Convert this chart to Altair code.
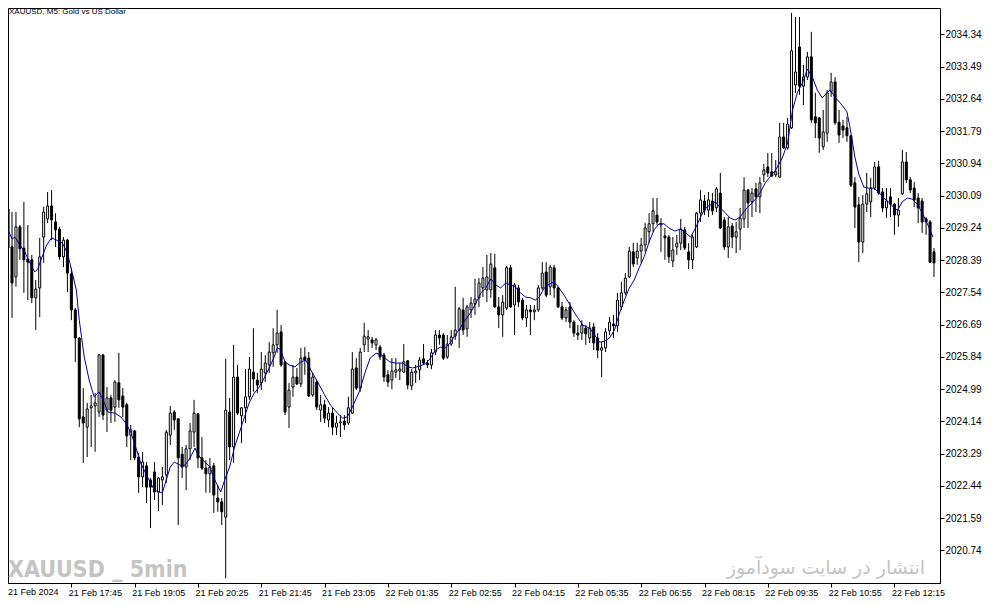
import altair as alt
import pandas as pd

# ---- candle data (XAUUSD, M5), one value per bar ----
opens = [2029.74, 2028.74, 2027.95, 2029.27, 2028.71, 2028.42, 2028.40, 2027.40, 2027.66, 2029.00,
         2029.48, 2029.82, 2029.40, 2029.21, 2028.48, 2028.92, 2028.03, 2027.08, 2026.34, 2024.26,
         2023.99, 2024.50, 2024.55, 2024.39, 2025.89, 2024.44, 2024.76, 2024.52, 2025.16, 2024.81,
         2024.58, 2023.78, 2023.89, 2023.20, 2022.68, 2022.97, 2022.60, 2022.81, 2022.28, 2022.60,
         2022.73, 2023.78, 2024.39, 2024.21, 2023.28, 2022.94, 2023.42, 2023.86, 2024.34, 2023.18,
         2022.91, 2022.76, 2022.97, 2022.12, 2022.02, 2021.62, 2024.39, 2023.47, 2025.31, 2024.29,
         2024.50, 2024.79, 2025.44, 2025.23, 2025.16, 2025.42, 2025.63, 2025.95, 2026.16, 2026.50,
         2025.71, 2024.52, 2025.05, 2025.31, 2025.13, 2025.84, 2025.81, 2024.84, 2025.18, 2024.44,
         2024.58, 2024.18, 2024.36, 2023.99, 2024.10, 2024.15, 2024.10, 2024.36, 2025.55, 2025.02,
         2026.16, 2026.31, 2026.29, 2026.16, 2026.10, 2025.89, 2025.37, 2025.23, 2025.44, 2025.47,
         2025.44, 2025.74, 2025.08, 2025.42, 2025.50, 2025.79, 2025.68, 2025.63, 2025.97, 2026.42,
         2026.42, 2025.84, 2026.18, 2026.39, 2026.55, 2027.08, 2026.58, 2027.08, 2027.24, 2027.40,
         2027.66, 2027.61, 2027.61, 2028.19, 2027.16, 2026.95, 2027.13, 2028.19, 2027.21, 2027.66,
         2027.34, 2026.87, 2027.08, 2027.03, 2027.08, 2027.66, 2028.08, 2027.69, 2028.19, 2027.66,
         2027.16, 2026.87, 2027.16, 2026.76, 2026.47, 2026.47, 2026.60, 2026.34, 2026.63, 2026.34,
         2026.02, 2026.08, 2026.53, 2026.71, 2026.66, 2027.16, 2027.53, 2027.95, 2028.61, 2028.45,
         2028.63, 2028.79, 2029.14, 2029.35, 2029.58, 2029.32, 2029.03, 2029.00, 2028.37, 2028.74,
         2028.84, 2029.19, 2028.61, 2028.40, 2028.74, 2029.63, 2029.95, 2029.71, 2029.95, 2029.77,
         2030.16, 2029.45, 2028.74, 2029.29, 2029.00, 2029.21, 2029.48, 2030.24, 2029.93, 2030.27,
         2030.06, 2030.64, 2030.85, 2030.72, 2030.64, 2030.58, 2031.64, 2031.35, 2031.88, 2033.01,
         2034.01, 2032.98, 2033.22, 2033.75, 2032.17, 2032.14, 2031.38, 2031.74, 2032.83, 2033.09,
         2032.03, 2031.93, 2031.88, 2031.67, 2030.43, 2029.85, 2028.87, 2029.87, 2029.93, 2030.29,
         2030.85, 2030.19, 2029.77, 2030.06, 2029.87, 2029.58, 2030.14, 2030.98, 2030.51, 2030.29,
         2030.03, 2029.95, 2029.48, 2029.40, 2028.61]

highs = [2029.80, 2029.66, 2029.66, 2029.32, 2029.93, 2029.32, 2028.53, 2027.87, 2028.98, 2029.80,
         2030.19, 2030.24, 2029.63, 2029.27, 2029.00, 2028.95, 2028.19, 2027.13, 2026.37, 2025.02,
         2024.63, 2024.84, 2024.89, 2025.92, 2025.92, 2025.05, 2024.84, 2025.23, 2025.95, 2025.02,
         2024.63, 2024.05, 2023.92, 2023.31, 2023.34, 2023.07, 2022.65, 2023.07, 2022.68, 2022.94,
         2023.92, 2024.55, 2024.44, 2024.21, 2023.47, 2023.52, 2024.10, 2024.71, 2024.36, 2023.73,
         2023.12, 2023.18, 2023.05, 2022.47, 2022.12, 2025.79, 2024.76, 2026.16, 2025.63, 2024.52,
         2025.52, 2025.84, 2026.60, 2025.42, 2025.97, 2025.89, 2026.23, 2026.60, 2027.08, 2026.68,
         2025.74, 2025.16, 2025.63, 2025.55, 2026.08, 2026.10, 2025.97, 2025.42, 2025.23, 2024.84,
         2024.71, 2024.52, 2024.52, 2024.29, 2024.31, 2024.31, 2024.79, 2025.97, 2025.81, 2026.08,
         2026.74, 2026.55, 2026.37, 2026.34, 2026.16, 2025.95, 2025.50, 2025.81, 2025.81, 2025.68,
         2026.18, 2025.76, 2025.52, 2025.63, 2025.84, 2026.18, 2025.76, 2026.05, 2026.55, 2026.55,
         2026.47, 2026.42, 2026.55, 2027.69, 2027.16, 2027.40, 2027.21, 2027.42, 2027.90, 2027.92,
         2028.21, 2028.53, 2028.58, 2028.56, 2027.42, 2027.47, 2028.24, 2028.27, 2027.79, 2027.74,
         2027.40, 2027.21, 2027.21, 2027.21, 2027.74, 2028.34, 2028.34, 2028.27, 2028.27, 2027.69,
         2027.29, 2027.16, 2027.29, 2026.81, 2026.68, 2026.81, 2026.68, 2026.76, 2026.74, 2026.47,
         2026.23, 2026.60, 2026.89, 2026.95, 2027.53, 2027.82, 2028.05, 2028.74, 2028.85, 2028.85,
         2028.98, 2029.37, 2029.63, 2030.03, 2030.03, 2029.50, 2029.24, 2029.06, 2029.00, 2029.06,
         2029.48, 2029.27, 2028.84, 2029.06, 2029.66, 2030.24, 2030.11, 2030.19, 2030.16, 2030.32,
         2030.69, 2029.53, 2029.53, 2029.37, 2029.40, 2029.77, 2030.58, 2030.27, 2030.29, 2030.43,
         2030.58, 2030.93, 2031.22, 2031.22, 2031.03, 2032.01, 2032.01, 2032.14, 2034.91, 2034.80,
         2034.80, 2033.54, 2033.88, 2034.41, 2032.80, 2032.17, 2032.35, 2032.88, 2033.33, 2033.22,
         2032.35, 2032.09, 2032.17, 2031.69, 2030.58, 2030.06, 2030.11, 2030.69, 2030.56, 2030.98,
         2031.01, 2030.29, 2030.29, 2030.29, 2029.90, 2030.03, 2031.30, 2031.24, 2030.58, 2030.45,
         2030.16, 2030.03, 2029.53, 2029.45, 2028.71]

lows = [2028.66, 2026.87, 2027.69, 2028.40, 2027.53, 2027.34, 2027.26, 2026.55, 2026.89, 2028.32,
        2029.37, 2028.92, 2028.74, 2028.40, 2028.21, 2027.55, 2026.81, 2025.71, 2023.99, 2023.05,
        2023.20, 2023.47, 2023.34, 2024.26, 2024.18, 2023.86, 2024.10, 2024.13, 2024.50, 2024.26,
        2023.47, 2023.12, 2023.12, 2022.26, 2022.41, 2021.99, 2021.33, 2022.07, 2021.78, 2021.94,
        2022.52, 2023.52, 2023.92, 2021.41, 2022.65, 2022.33, 2023.12, 2023.47, 2022.91, 2022.86,
        2022.26, 2022.26, 2021.73, 2021.76, 2021.41, 2020.01, 2023.12, 2023.05, 2024.31, 2023.57,
        2024.10, 2024.71, 2024.92, 2024.89, 2024.97, 2025.18, 2025.42, 2025.58, 2025.95, 2025.58,
        2024.31, 2023.97, 2024.79, 2025.10, 2025.05, 2025.37, 2024.79, 2024.79, 2024.44, 2024.13,
        2024.10, 2023.99, 2023.78, 2023.78, 2023.73, 2023.92, 2024.05, 2024.34, 2024.97, 2024.92,
        2025.97, 2025.97, 2026.08, 2026.02, 2025.76, 2025.18, 2025.05, 2024.99, 2025.29, 2025.23,
        2025.42, 2024.99, 2024.97, 2025.16, 2025.23, 2025.63, 2025.55, 2025.52, 2025.89, 2026.16,
        2025.76, 2025.79, 2026.13, 2026.29, 2026.08, 2026.42, 2026.37, 2026.87, 2026.95, 2027.16,
        2027.42, 2027.29, 2027.40, 2027.13, 2026.60, 2026.37, 2027.08, 2027.13, 2026.42, 2027.16,
        2026.81, 2026.63, 2026.42, 2026.81, 2027.03, 2027.61, 2027.42, 2027.47, 2027.40, 2027.13,
        2026.81, 2026.76, 2026.60, 2026.37, 2026.29, 2026.29, 2026.16, 2026.21, 2026.02, 2025.81,
        2025.31, 2025.97, 2026.42, 2026.34, 2026.50, 2027.08, 2027.47, 2027.92, 2028.21, 2028.27,
        2028.32, 2028.61, 2028.85, 2029.14, 2029.32, 2028.61, 2028.40, 2028.32, 2028.21, 2028.53,
        2028.66, 2028.66, 2028.16, 2028.16, 2028.71, 2029.40, 2029.58, 2029.53, 2029.58, 2029.66,
        2029.21, 2028.66, 2028.45, 2028.71, 2028.58, 2028.66, 2029.24, 2029.24, 2029.53, 2029.66,
        2029.63, 2030.45, 2030.58, 2030.58, 2030.58, 2030.56, 2031.32, 2031.30, 2031.85, 2032.80,
        2032.75, 2032.48, 2033.14, 2032.01, 2031.61, 2031.22, 2031.30, 2031.51, 2032.69, 2031.96,
        2031.48, 2031.61, 2031.51, 2030.32, 2029.24, 2028.34, 2028.58, 2029.66, 2029.53, 2030.24,
        2030.11, 2029.66, 2029.50, 2029.53, 2029.06, 2029.27, 2030.11, 2030.43, 2030.16, 2029.79,
        2029.37, 2029.11, 2029.06, 2028.32, 2027.95]

closes = [2028.71, 2027.79, 2029.27, 2028.69, 2028.40, 2028.34, 2027.40, 2027.63, 2028.48, 2029.66,
          2029.82, 2029.45, 2029.19, 2028.48, 2028.92, 2028.05, 2027.08, 2026.34, 2024.21, 2024.10,
          2024.47, 2024.55, 2024.63, 2025.89, 2024.31, 2024.76, 2024.44, 2025.18, 2024.71, 2024.52,
          2023.76, 2023.92, 2023.18, 2022.68, 2023.07, 2022.41, 2022.41, 2022.28, 2022.65, 2022.68,
          2023.86, 2024.36, 2024.18, 2023.18, 2022.94, 2023.42, 2023.89, 2024.36, 2023.18, 2022.91,
          2022.76, 2022.94, 2022.20, 2022.02, 2021.76, 2024.44, 2023.47, 2025.31, 2024.36, 2024.50,
          2024.79, 2025.52, 2025.26, 2025.10, 2025.52, 2025.68, 2025.97, 2026.16, 2026.47, 2025.63,
          2024.39, 2024.97, 2025.31, 2025.13, 2025.81, 2025.76, 2024.81, 2025.31, 2024.52, 2024.58,
          2024.23, 2024.36, 2023.99, 2024.10, 2024.13, 2024.05, 2024.50, 2025.52, 2025.02, 2025.97,
          2026.39, 2026.37, 2026.21, 2026.29, 2025.84, 2025.31, 2025.18, 2025.47, 2025.50, 2025.52,
          2025.71, 2025.10, 2025.44, 2025.47, 2025.76, 2025.68, 2025.63, 2025.95, 2026.42, 2026.34,
          2025.81, 2026.18, 2026.37, 2026.55, 2027.11, 2026.55, 2027.16, 2027.26, 2027.37, 2027.79,
          2027.92, 2027.95, 2028.29, 2027.16, 2026.95, 2027.29, 2028.19, 2027.16, 2027.74, 2027.29,
          2026.87, 2027.08, 2027.03, 2027.08, 2027.66, 2028.05, 2027.47, 2028.21, 2027.66, 2027.16,
          2026.87, 2027.08, 2026.76, 2026.47, 2026.42, 2026.68, 2026.45, 2026.60, 2026.21, 2026.02,
          2026.08, 2026.50, 2026.76, 2026.66, 2027.34, 2027.53, 2027.92, 2028.63, 2028.29, 2028.63,
          2028.79, 2029.24, 2029.35, 2029.69, 2029.40, 2029.35, 2028.98, 2028.48, 2028.66, 2028.84,
          2029.21, 2028.71, 2028.40, 2029.00, 2029.63, 2029.98, 2029.71, 2029.98, 2029.69, 2030.27,
          2029.24, 2028.74, 2029.27, 2029.00, 2029.14, 2029.50, 2030.24, 2029.90, 2030.16, 2030.06,
          2030.43, 2030.77, 2030.69, 2030.61, 2030.72, 2031.64, 2031.35, 2031.98, 2033.91, 2033.35,
          2032.98, 2033.22, 2033.75, 2032.09, 2032.01, 2031.61, 2031.77, 2032.80, 2033.09, 2032.01,
          2031.69, 2031.82, 2031.67, 2030.37, 2029.79, 2028.87, 2029.87, 2030.14, 2030.29, 2030.85,
          2030.16, 2029.77, 2029.95, 2029.87, 2029.58, 2029.71, 2030.98, 2030.51, 2030.24, 2029.98,
          2029.77, 2029.40, 2029.40, 2028.34, 2028.32]

# ---- moving-average line, read at points along the picture (bar position, price) ----
ma_pos = [0, 1, 1.75, 3, 4.25, 5.5, 6.75, 7.5, 8.5, 9.75, 11, 12.25, 13.75, 15, 16.25, 17.25, 18,
          19.25, 20.5, 21.75, 23, 24, 25.25, 27, 28.5, 29.75, 31, 32.25, 33.5, 34.75, 36, 37, 38.25,
          39, 39.75, 41, 42, 43.5, 44.75, 46, 47.25, 48, 49.25, 51, 52.25, 53.75, 54.75, 56, 57.25,
          58.5, 59.75, 61, 62.25, 63.5, 64.75, 66, 67.25, 68, 68.75, 70, 71, 72.5, 74, 75.25, 76.5,
          78.25, 80, 81.5, 83.25, 84.5, 85.75, 87, 88.75, 90.25, 91.5, 93, 94.5, 95.5, 96.5, 98,
          99.75, 101, 102.25, 104, 105.5, 106.75, 108, 109.25, 110.5, 111.75, 113, 114.25, 115.5,
          116.75, 118, 119.5, 120.75, 122, 123.25, 124.5, 125.75, 127, 128.25, 129.5, 130.75, 132,
          133.25, 134.25, 135.5, 136.75, 138, 139.25, 140.5, 141.75, 143, 144, 145.25, 147, 148.25,
          149.5, 150.75, 152, 153.25, 154.5, 155.75, 157, 158.25, 159.5, 160.75, 162, 163.25, 164.5,
          165.75, 167, 168.5, 170, 171.25, 172.5, 173.75, 175, 176.25, 177.5, 178.75, 180, 181.25,
          182.5, 183.75, 185, 186.25, 187.5, 188.75, 190, 191.5, 192.5, 194, 195.75, 197, 198.25,
          199.5, 200.75, 202, 203.25, 204.5, 205.75, 206.5, 207.75, 209, 210.75, 212, 212.75, 214,
          215, 216.25, 217.5, 218.75, 220, 221.25, 222.5, 223.75, 224.75, 226, 227.25, 228.5,
          229.75, 231, 232.25, 233.75]
ma_val = [2029.19, 2028.95, 2029.00, 2028.79, 2028.61, 2028.32, 2028.08, 2028.16, 2028.45, 2028.79,
          2028.98, 2028.92, 2028.84, 2028.58, 2028.05, 2027.61, 2026.81, 2025.84, 2025.23, 2024.79,
          2024.92, 2024.71, 2024.39, 2024.36, 2024.26, 2024.10, 2023.86, 2023.47, 2023.05, 2022.78,
          2022.52, 2022.33, 2022.28, 2022.26, 2022.52, 2022.94, 2023.07, 2022.99, 2022.99, 2023.18,
          2023.44, 2023.26, 2023.12, 2022.94, 2022.60, 2022.28, 2022.60, 2022.94, 2023.47, 2023.86,
          2024.26, 2024.65, 2024.89, 2025.05, 2025.29, 2025.55, 2025.84, 2026.08, 2026.05, 2025.71,
          2025.63, 2025.58, 2025.71, 2025.76, 2025.50, 2025.18, 2024.84, 2024.57, 2024.36, 2024.23,
          2024.26, 2024.52, 2024.92, 2025.44, 2025.81, 2025.94, 2025.89, 2025.79, 2025.71, 2025.68,
          2025.68, 2025.58, 2025.55, 2025.60, 2025.66, 2025.81, 2026.02, 2026.10, 2026.08, 2026.21,
          2026.42, 2026.60, 2026.81, 2026.99, 2027.21, 2027.53, 2027.66, 2027.90, 2027.74, 2027.66,
          2027.79, 2027.74, 2027.68, 2027.53, 2027.42, 2027.40, 2027.34, 2027.42, 2027.66, 2027.76,
          2027.82, 2027.66, 2027.47, 2027.26, 2027.03, 2026.87, 2026.68, 2026.60, 2026.42, 2026.23,
          2026.26, 2026.34, 2026.55, 2026.99, 2027.34, 2027.66, 2027.87, 2028.19, 2028.48, 2028.87,
          2029.19, 2029.35, 2029.35, 2029.24, 2029.16, 2029.21, 2029.11, 2029.00, 2029.24, 2029.53,
          2029.77, 2029.85, 2029.93, 2029.77, 2029.64, 2029.50, 2029.45, 2029.53, 2029.71, 2029.85,
          2029.98, 2030.16, 2030.45, 2030.58, 2030.77, 2031.11, 2031.48, 2032.35, 2032.82, 2033.06,
          2033.43, 2033.22, 2032.88, 2032.67, 2032.75, 2032.88, 2032.69, 2032.48, 2032.30, 2031.90,
          2031.11, 2030.66, 2030.32, 2030.29, 2030.29, 2030.19, 2030.03, 2029.93, 2029.79, 2029.71,
          2029.93, 2030.03, 2030.00, 2029.87, 2029.64, 2029.37, 2029.00]

# ---- axis text ----
y_ticks = [2020.74, 2021.59, 2022.44, 2023.29, 2024.14, 2024.99, 2025.84, 2026.69, 2027.54,
           2028.39, 2029.24, 2030.09, 2030.94, 2031.79, 2032.64, 2033.49, 2034.34]
x_tick_pos = [16, 32, 48, 64, 80, 96, 112, 128, 144, 160, 176, 192, 208, 224]
x_tick_labels = ["21 Feb 17:45", "21 Feb 19:05", "21 Feb 20:25", "21 Feb 21:45", "21 Feb 23:05",
                 "22 Feb 01:35", "22 Feb 02:55", "22 Feb 04:15", "22 Feb 05:35", "22 Feb 06:55",
                 "22 Feb 08:15", "22 Feb 09:35", "22 Feb 10:55", "22 Feb 12:15"]
first_label = "21 Feb 2024"
title_text = "XAUUSD, M5:  Gold vs US Dollar"
wm_left = "XAUUSD _ 5min"
wm_right = "انتشار در سایت سودآموز"

df = pd.DataFrame({"k": list(range(len(opens))), "open": opens, "high": highs,
                   "low": lows, "close": closes})
ma_df = pd.DataFrame({"k": ma_pos, "v": ma_val})

W, H = 932, 575
FONT = "Liberation Sans"
xs = alt.Scale(domain=[1.25, 234.25], nice=False, zero=False)
ys = alt.Scale(domain=[2019.883, 2035.038], nice=False, zero=False)

label_expr = " : ".join(f"datum.value == {p} ? '{l}'" for p, l in zip(x_tick_pos, x_tick_labels)) + " : ''"

x_axis = alt.Axis(values=x_tick_pos, labelExpr=label_expr, labelAlign="left", labelBaseline="top",
                  tickSize=4, labelPadding=1, labelOffset=-3, labelFont=FONT, labelFontSize=9,
                  labelColor="black", tickColor="black", domainColor="black", grid=False, title=None,
                  labelOverlap=False, labelFlush=False, labelBound=False)
y_axis = alt.Axis(values=y_ticks, format=".2f", orient="right", tickSize=4, labelPadding=1,
                  labelFont=FONT, labelFontSize=10, labelColor="black", tickColor="black",
                  domainColor="black", grid=False, title=None, labelOverlap=False, labelFlush=False,
                  labelBound=False)

X = alt.X("k:Q", scale=xs, axis=x_axis)

base = alt.Chart(df)

wicks = base.mark_rule(color="black", strokeWidth=1, clip=True).encode(
    x=X,
    y=alt.Y("low:Q", scale=ys, axis=y_axis),
    y2="high:Q",
)

bodies = base.mark_bar(size=2, stroke="black", strokeWidth=1, clip=True).encode(
    x=X,
    y=alt.Y("open:Q", scale=ys, axis=y_axis),
    y2="close:Q",
    fill=alt.condition("datum.close > datum.open", alt.value("white"), alt.value("black")),
)

ma_line = alt.Chart(ma_df).mark_line(color="#00009A", strokeWidth=1, clip=True).encode(
    x=X,
    y=alt.Y("v:Q", scale=ys, axis=y_axis),
)

title = alt.Chart(pd.DataFrame({"t": [title_text]})).mark_text(
    align="left", baseline="top", font=FONT, fontSize=8, color="black"
).encode(x=alt.value(1), y=alt.value(0), text="t:N")

first = alt.Chart(pd.DataFrame({"t": [first_label]})).mark_text(
    align="left", baseline="top", font=FONT, fontSize=9, color="black"
).encode(x=alt.value(0), y=alt.value(H + 5), text="t:N")

wm1 = alt.Chart(pd.DataFrame({"t": [wm_left]})).mark_text(
    align="left", baseline="alphabetic",
    font="Liberation Sans Narrow, DejaVu Sans Condensed, Liberation Sans",
    fontSize=23, fontWeight="bold", color="#C4C4C4"
).encode(x=alt.value(0), y=alt.value(569), text="t:N")

wm2 = alt.Chart(pd.DataFrame({"t": [wm_right]})).mark_text(
    align="right", baseline="alphabetic", font="DejaVu Sans", fontSize=19,
    color="#C4C4C4"
).encode(x=alt.value(917), y=alt.value(566), text="t:N")

chart = alt.layer(wm1, wm2, wicks, bodies, ma_line, title, first).properties(
    width=W, height=H, padding=0, background="white"
).configure_view(stroke="black", strokeWidth=1).configure_axis(labelOverlap=False)

chart.save("out.html", embed_options={"renderer": "svg", "actions": False})
